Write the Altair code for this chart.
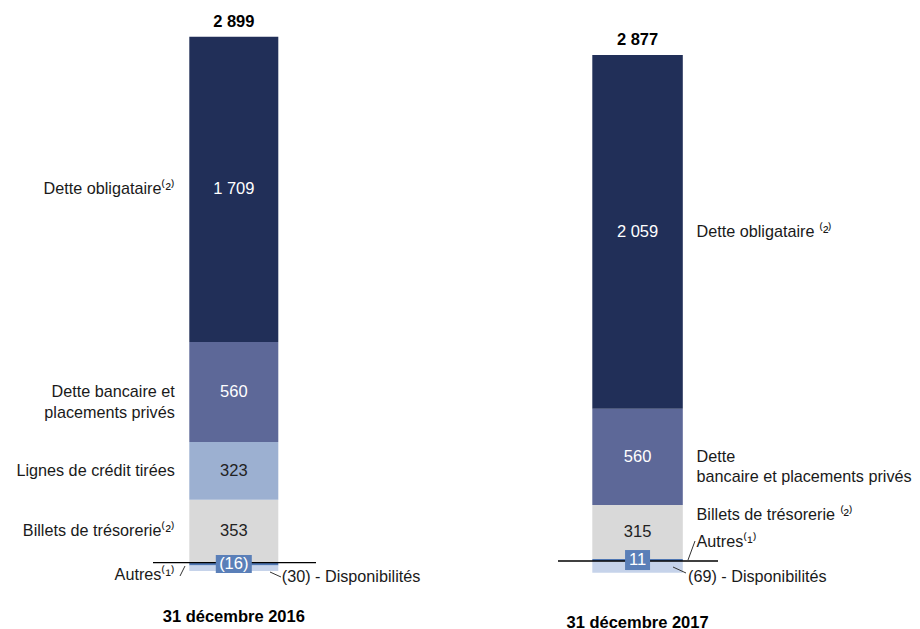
import altair as alt
import pandas as pd

FONT = "Liberation Sans"
FS = 16.2      # regular labels
FSB = 16.5     # bold labels

# ---------------- data ----------------
years = ["31 décembre 2016", "31 décembre 2017"]
categories = ["Dette obligataire", "Dette bancaire et placements privés",
              "Lignes de crédit tirées", "Billets de trésorerie", "Autres", "Disponibilités"]
stack_rank = [5, 4, 3, 2, 0, 1]
values_2016 = [1709, 560, 323, 353, -16, -30]
values_2017 = [2059, 560, None, 315, 11, -69]
totals = ["2 899", "2 877"]
value_text_2016 = ["1 709", "560", "323", "353", "(16)", ""]
value_text_2017 = ["2 059", "560", "", "315", "11", ""]
names_2016 = ["Dette obligataire⁽²⁾", "Dette bancaire et\nplacements privés",
              "Lignes de crédit tirées", "Billets de trésorerie⁽²⁾",
              "Autres⁽¹⁾", "(30) - Disponibilités"]
names_2017 = ["Dette obligataire ⁽²⁾", "Dette\nbancaire et placements privés",
              "", "Billets de trésorerie ⁽²⁾",
              "Autres⁽¹⁾", "(69) - Disponibilités"]

palette = ["#212f58", "#5d6898", "#9cb0d1", "#d9d9d9", "#4f77b3", "#c6d3ea"]
BOX = "#5a7fb8"


def build(year, values, vtexts, names):
    rows = []
    for cat, rank, v, vt, nm in zip(categories, stack_rank, values, vtexts, names):
        if v is None:
            continue
        rows.append(dict(year=year, cat=cat, rank=rank, v=v, vt=vt, nm=nm))
    df = pd.DataFrame(rows).sort_values("rank").reset_index(drop=True)
    pos = neg = 0
    y0s, y1s = [], []
    for v in df["v"]:
        if v >= 0:
            y0s.append(pos); pos += v; y1s.append(pos)
        else:
            y0s.append(neg); neg += v; y1s.append(neg)
    df["y0"] = y0s
    df["y1"] = y1s
    df["mid"] = (df["y0"] + df["y1"]) / 2
    return df, pos


def band_scale(W, bar_w, bar_left):
    r = bar_w / W
    pi = (1 - 3 * r) / (1 - r)
    align = bar_left / (W - bar_w)
    return alt.Scale(paddingInner=pi, paddingOuter=1, align=align)


def panel(df, top, year, total_text, W, H, dom, bar_w, bar_left, label_pad, labels,
          rule_x, leaders, box_shape, box_size):
    xenc = alt.X("year:N", title=None,
                 scale=band_scale(W, bar_w, bar_left),
                 axis=alt.Axis(domain=False, ticks=False, tickSize=0, labelPadding=label_pad,
                               labelAngle=0, labelFontSize=FSB, labelFontWeight="bold",
                               labelColor="#000000", labelFont=FONT, labelLimit=400,
                               grid=False))
    ysc = alt.Scale(domain=dom, nice=False, zero=False)
    base = alt.Chart(df)
    layers = []
    layers.append(base.mark_bar().encode(
        x=xenc,
        y=alt.Y("y0:Q", scale=ysc, axis=None),
        y2="y1:Q",
        color=alt.Color("cat:N", scale=alt.Scale(domain=categories, range=palette),
                        legend=None)))
    # baseline rule
    layers.append(alt.Chart(pd.DataFrame({"year": [year]})).mark_rule(
        color="#000000", strokeWidth=1.3).encode(
        y=alt.Y(datum=0, scale=ysc), x=alt.value(rule_x[0]), x2=alt.value(rule_x[1])))
    # value labels inside bars
    layers.append(base.transform_filter("datum.rank >= 2 && datum.vt != ''").mark_text(
        fontSize=FSB, font=FONT).encode(
        x=xenc, y=alt.Y("mid:Q", scale=ysc),
        text="vt:N",
        color=alt.condition("datum.rank >= 4", alt.value("#ffffff"), alt.value("#222222"))))
    # box label for Autres
    layers.append(base.transform_filter("datum.cat == 'Autres'").mark_point(
        shape=box_shape, filled=True, size=box_size, color=BOX, opacity=1,
        strokeWidth=0).encode(x=xenc, y=alt.Y("mid:Q", scale=ysc)))
    layers.append(base.transform_filter("datum.cat == 'Autres'").mark_text(
        fontSize=FSB, font=FONT, color="#ffffff").encode(
        x=xenc, y=alt.Y("mid:Q", scale=ysc), text="vt:N"))
    # category labels
    for cond, al, dx, dy in labels:
        layers.append(base.transform_filter(cond).mark_text(
            fontSize=FS, font=FONT, color="#1a1a1a", align=al, dx=dx, dy=dy,
            lineBreak="\n", lineHeight=20.6).encode(
            x=xenc, y=alt.Y("mid:Q", scale=ysc), text="nm:N"))
    # total on top
    layers.append(alt.Chart(pd.DataFrame({"year": [year], "top": [top], "t": [total_text]}))
                  .mark_text(fontSize=FSB, font=FONT, fontWeight="bold", color="#000000",
                             dy=-15)
                  .encode(x=xenc, y=alt.Y("top:Q", scale=ysc), text="t:N"))
    # leader lines
    for (xa, ya, xb, yb) in leaders:
        layers.append(alt.Chart(pd.DataFrame({"year": [year]})).mark_rule(
            color="#333333", strokeWidth=1).encode(
            x=alt.value(xa), y=alt.value(ya), x2=alt.value(xb), y2=alt.value(yb)))
    return alt.layer(*layers).properties(width=W, height=H)


df16, top16 = build(years[0], values_2016, value_text_2016, names_2016)
df17, top17 = build(years[1], values_2017, value_text_2017, names_2017)

left = panel(
    df16, top16, years[0], totals[0], 440, 588, [-186.5, 3105.6], 89, 181.3, 12,
    [("datum.rank >= 2", "right", -59, 0),
     ("datum.cat == 'Autres'", "right", -59, 11),
     ("datum.cat == 'Disponibilités'", "left", 48, 8.8)],
    [145, 308],
    [(172, 568, 177, 558), (262, 564, 273, 569)],
    "M-1,-0.5L1,-0.5L1,0.5L-1,0.5Z", 1296)

right = panel(
    df17, top17, years[1], totals[1], 464, 601, [-279.5, 3218.4], 90.5, 144.3, 5,
    [("datum.rank >= 4", "left", 59, 0),
     ("datum.cat == 'Billets de trésorerie'", "left", 59, -17),
     ("datum.cat == 'Autres'", "left", 59, -18.3),
     ("datum.cat == 'Disponibilités'", "left", 50.5, 9.8)],
    [110, 270],
    [(240, 552, 247, 533), (225, 559, 238, 565)],
    "M-1,-0.8L1,-0.8L1,0.8L-1,0.8Z", 625)

chart = alt.hconcat(left, right, spacing=0, bounds="flush").properties(
    padding=0
).configure(font=FONT, view=alt.ViewConfig(stroke=None))

chart.save("out.html", embed_options={"renderer": "svg", "actions": False})
